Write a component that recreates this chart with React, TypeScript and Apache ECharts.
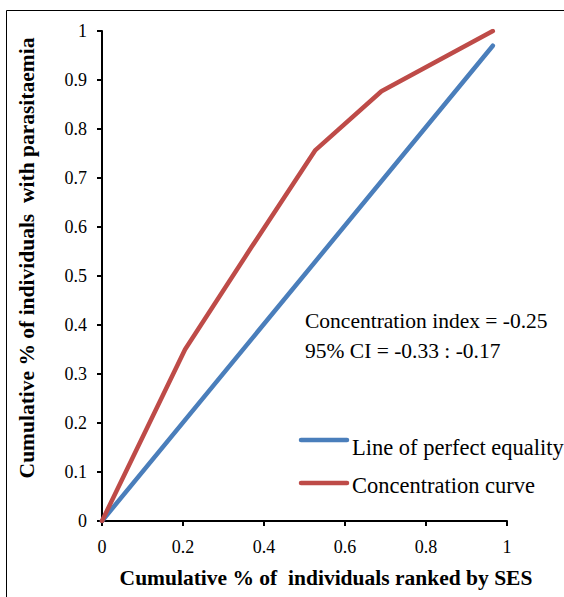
import React, { useEffect, useRef } from "react";
import * as echarts from "echarts";

// Cumulative share of individuals ranked by SES (x) vs. cumulative share with parasitaemia (y)
const equalityX = [0, 0.965];
const equalityY = [0, 0.97];
const curveX = [0, 0.205, 0.37, 0.527, 0.69, 0.965];
const curveY = [0, 0.35, 0.56, 0.757, 0.877, 1.0];

const seriesNames = ["Line of perfect equality", "Concentration curve"];
const seriesColors = ["#4a7ebb", "#be4b48"];
const annotationLines = ["Concentration index = -0.25", "95% CI = -0.33 : -0.17"];
const xTitle = "Cumulative % of  individuals ranked by SES";
const yTitle = "Cumulative % of individuals  with parasitaemia";

const FONT = "Liberation Serif";

export default function App() {
  const ref = useRef<HTMLDivElement>(null);

  useEffect(() => {
    if (!ref.current) return;
    const chart = echarts.init(ref.current, null, { renderer: "svg" });

    const pairs = (xs: number[], ys: number[]) => xs.map((x, i) => [x, ys[i]]);

    chart.setOption({
      animation: false,
      backgroundColor: "#ffffff",
      textStyle: { fontFamily: FONT },
      grid: { left: 102, right: 57, top: 31, bottom: 76 },
      xAxis: {
        type: "value",
        min: 0,
        max: 1,
        interval: 0.2,
        axisLine: { lineStyle: { color: "#000", width: 2 } },
        axisTick: { show: true, inside: false, length: 5, lineStyle: { color: "#000", width: 2 } },
        axisLabel: { fontFamily: FONT, fontSize: 18, color: "#000", margin: 17 },
        splitLine: { show: false },
      },
      yAxis: {
        type: "value",
        min: 0,
        max: 1,
        interval: 0.1,
        axisLine: { show: true, lineStyle: { color: "#000", width: 2 } },
        axisTick: { show: true, inside: false, length: 5, lineStyle: { color: "#000", width: 2 } },
        axisLabel: { fontFamily: FONT, fontSize: 18, color: "#000", margin: 15 },
        splitLine: { show: false },
      },
      series: [
        {
          name: seriesNames[0],
          type: "line",
          data: pairs(equalityX, equalityY),
          showSymbol: false,
          lineStyle: { color: seriesColors[0], width: 4.5, cap: "round", join: "round" },
          z: 2,
        },
        {
          name: seriesNames[1],
          type: "line",
          data: pairs(curveX, curveY),
          showSymbol: false,
          lineStyle: { color: seriesColors[1], width: 4.5, cap: "round", join: "round" },
          z: 3,
        },
      ],
      graphic: [
        {
          type: "rect",
          shape: { x: 6.5, y: 10.5, width: 700, height: 700 },
          style: { fill: "none", stroke: "#000", lineWidth: 1 },
          silent: true,
          z: 0,
        },
        // axis titles
        {
          type: "text",
          x: 326,
          y: 578,
          style: {
            text: xTitle,
            fontFamily: FONT,
            fontSize: 21.5,
            fontWeight: "bold",
            fill: "#000",
            align: "center",
            verticalAlign: "middle",
          },
        },
        {
          type: "text",
          x: 27,
          y: 258,
          rotation: Math.PI / 2,
          style: {
            text: yTitle,
            fontFamily: FONT,
            fontSize: 21.5,
            fontWeight: "bold",
            fill: "#000",
            align: "center",
            verticalAlign: "middle",
          },
        },
        // concentration index annotation
        ...annotationLines.map((t, i) => ({
          type: "text",
          x: 305,
          y: 321 + i * 30,
          style: {
            text: t,
            fontFamily: FONT,
            fontSize: 21.5,
            fill: "#000",
            verticalAlign: "middle",
          },
        })),
        // legend
        {
          type: "line",
          shape: { x1: 301, y1: 440, x2: 347, y2: 440 },
          style: { stroke: seriesColors[0], lineWidth: 4.5, lineCap: "round" },
        },
        {
          type: "text",
          x: 352,
          y: 447,
          style: { text: seriesNames[0], fontFamily: FONT, fontSize: 22.5, fill: "#000", verticalAlign: "middle" },
        },
        {
          type: "line",
          shape: { x1: 301, y1: 483, x2: 347, y2: 483 },
          style: { stroke: seriesColors[1], lineWidth: 4.5, lineCap: "round" },
        },
        {
          type: "text",
          x: 352,
          y: 485,
          style: { text: seriesNames[1], fontFamily: FONT, fontSize: 22.5, fill: "#000", verticalAlign: "middle" },
        },
      ],
    });

    return () => chart.dispose();
  }, []);

  return (
    <div
      ref={ref}
      style={{ position: "fixed", left: 0, top: 0, width: 564, height: 597, background: "#fff" }}
    />
  );
}
